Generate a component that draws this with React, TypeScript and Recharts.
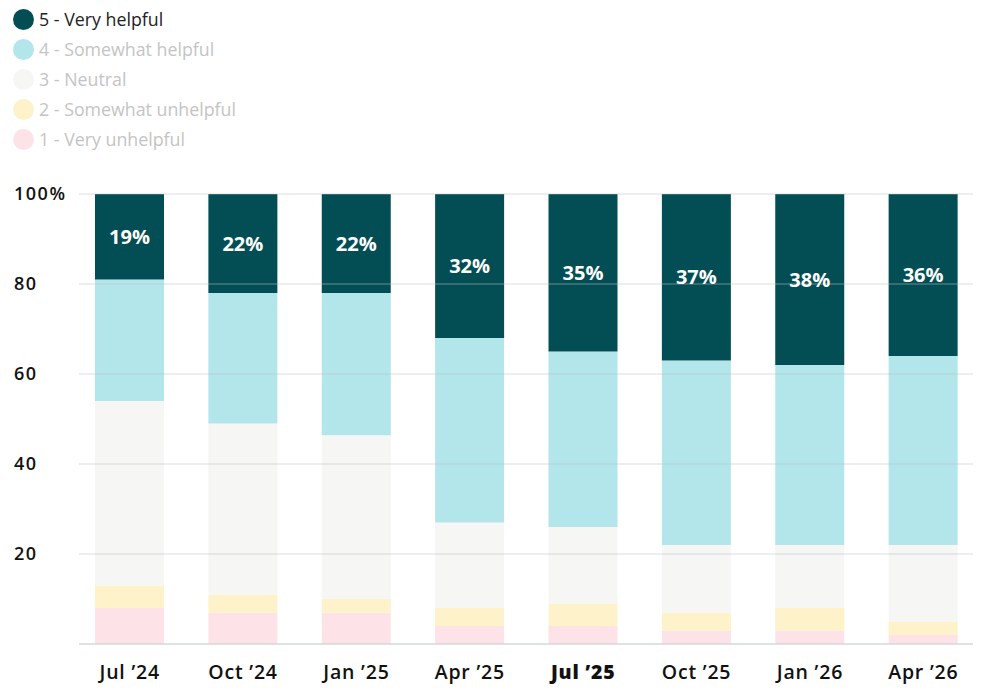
import React from 'react';
import { BarChart, Bar, XAxis, YAxis, LabelList, ReferenceLine } from 'recharts';

const periods = ['Jul \u201924', 'Oct \u201924', 'Jan \u201925', 'Apr \u201925', 'Jul \u201925', 'Oct \u201925', 'Jan \u201926', 'Apr \u201926'];

// share of responses per rating, bottom to top
const veryUnhelpful = [8, 7, 7, 4, 4, 3, 3, 2];
const somewhatUnhelpful = [5, 4, 3, 4, 5, 4, 5, 3];
const neutral = [41, 38, 36.4, 19, 17, 15, 14, 17];
const somewhatHelpful = [27, 29, 31.6, 41, 39, 41, 40, 42];
const veryHelpful = [19, 22, 22, 32, 35, 37, 38, 36];

const yTicks = [20, 40, 60, 80, 100];

const series = [
  { key: 'r1', name: '1 - Very unhelpful', color: '#fde3e7', values: veryUnhelpful },
  { key: 'r2', name: '2 - Somewhat unhelpful', color: '#fdf2c9', values: somewhatUnhelpful },
  { key: 'r3', name: '3 - Neutral', color: '#f6f6f4', values: neutral },
  { key: 'r4', name: '4 - Somewhat helpful', color: '#b2e6ea', values: somewhatHelpful },
  { key: 'r5', name: '5 - Very helpful', color: '#034e55', values: veryHelpful },
];

const data = periods.map((p, i) => {
  const row: Record<string, number | string> = { period: p };
  series.forEach((s) => (row[s.key] = s.values[i]));
  return row;
});

const FONT = '"Open Sans", Lato, sans-serif';

const XTick = ({ x, y, payload }: any) => {
  const bold = payload.value === 'Jul \u201925';
  return (
    <text x={x} y={y + 22} textAnchor="middle" dominantBaseline="middle"
      fontFamily={FONT} fontSize={19.5} letterSpacing={0.8} fontWeight={bold ? 800 : 600} fill="#111">
      {payload.value}
    </text>
  );
};

const YTick = ({ y, payload }: any) => (
  <text x={14} y={y + 1} textAnchor="start" dominantBaseline="middle"
    fontFamily={FONT} fontSize={18} letterSpacing={1.5} fontWeight={600} fill="#111">
    {payload.value === 100 ? '100%' : payload.value}
  </text>
);

const legendItems = [...series].reverse();

export default function App() {
  return (
    <div style={{ position: 'absolute', left: 0, top: 0, width: 984, height: 697, background: '#fff', fontFamily: FONT }}>
      <div style={{ position: 'absolute', left: 13, top: 4, zIndex: 2 }}>
        {legendItems.map((s, i) => (
          <div key={s.key} style={{ display: 'flex', alignItems: 'center', height: 30 }}>
            <span style={{ width: 21, height: 21, borderRadius: '50%', background: s.color, display: 'inline-block', marginRight: 5 }} />
            <span style={{ fontSize: 17.8, fontWeight: 500, color: i === 0 ? '#222' : '#c4c4c4' }}>{s.name}</span>
          </div>
        ))}
      </div>
      <div style={{ position: 'absolute', left: 0, top: 0 }}>
        <BarChart width={984} height={697} data={data}
          margin={{ top: 194, right: 11, bottom: 23, left: 0 }}>
          <XAxis dataKey="period" height={30} padding={{ left: -6, right: -7 }} tickLine={false}
            axisLine={{ stroke: '#d3d8db', strokeWidth: 1.5 }} tick={<XTick />} interval={0} />
          <YAxis type="number" domain={[0, 100]} ticks={yTicks} width={79}
            axisLine={false} tickLine={false} tick={<YTick />} />
          {series.map((s) => (
            <Bar key={s.key} dataKey={s.key} stackId="a" fill={s.color} barSize={69} isAnimationActive={false}>
              {s.key === 'r5' && (
                <LabelList dataKey="r5" position="center" formatter={(v: any) => `${v}%`}
                  fill="#fff" fontFamily={FONT} fontSize={20} fontWeight={700} />
              )}
            </Bar>
          ))}
          {yTicks.map((t) => (
            <ReferenceLine key={t} y={t} stroke="#b9c3c7" strokeOpacity={0.55} strokeWidth={1} />
          ))}
        </BarChart>
      </div>
    </div>
  );
}
